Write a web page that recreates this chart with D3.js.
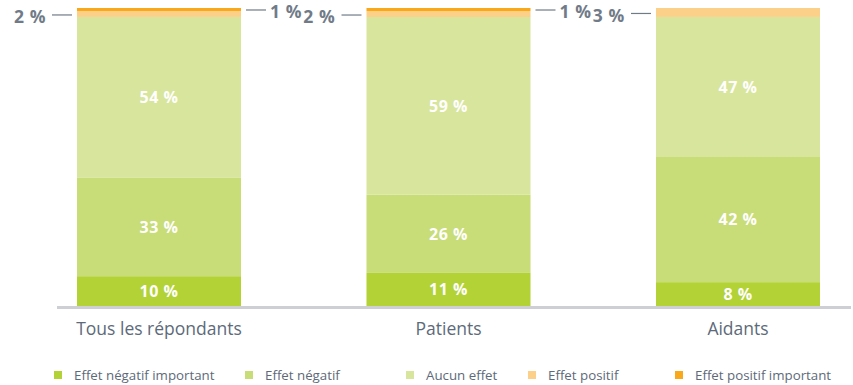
<!DOCTYPE html>
<html>
<head>
<meta charset="utf-8">
<script src="https://cdn.jsdelivr.net/npm/d3@7"></script>
<style>
  html, body { margin: 0; padding: 0; background: #fff; }
  svg { display: block; font-family: "Open Sans", "Lato", sans-serif; }
</style>
</head>
<body>
<svg id="chart" width="853" height="385"></svg>
<script>
// Groups of respondents
const categories = ["Tous les répondants", "Patients", "Aidants"];

// Answer categories, bottom of the stack to top
const seriesNames = ["Effet négatif important", "Effet négatif", "Aucun effet", "Effet positif", "Effet positif important"];
const seriesColors = ["#b2d235", "#c8dc77", "#d8e59c", "#fdd089", "#f9a81a"];

// Percentages per group, one array per answer category
const negImportant = [10, 11, 8];
const negatif      = [33, 26, 42];
const aucun        = [54, 59, 47];
const positif      = [2, 2, 3];
const posImportant = [1, 1, 0];

const seriesValues = [negImportant, negatif, aucun, positif, posImportant];

const rows = categories.map((c, i) => {
  const r = { cat: c };
  seriesNames.forEach((s, k) => r[s] = seriesValues[k][i]);
  return r;
});

const svg = d3.select("#chart");

const x = d3.scaleBand()
  .domain(categories)
  .range([77, 820])
  .paddingInner(0.4335)
  .paddingOuter(0);

const y = d3.scaleLinear().domain([0, 1]).range([306, 8]);

const stack = d3.stack().keys(seriesNames).offset(d3.stackOffsetExpand);
const layers = stack(rows);

const color = d3.scaleOrdinal().domain(seriesNames).range(seriesColors);

// Stacked bars
svg.append("g").selectAll("g")
  .data(layers)
  .join("g")
  .attr("fill", d => color(d.key))
  .selectAll("rect")
  .data(d => d)
  .join("rect")
  .attr("x", d => x(d.data.cat))
  .attr("width", x.bandwidth())
  .attr("y", d => y(d[1]))
  .attr("height", d => Math.max(0, y(d[0]) - y(d[1])));

// Value labels inside the three main segments
const inside = layers.slice(0, 3);
svg.append("g").selectAll("g")
  .data(inside)
  .join("g")
  .selectAll("text")
  .data(d => d.map(v => ({ v, key: d.key })))
  .join("text")
  .attr("x", d => x(d.v.data.cat) + x.bandwidth() / 2)
  .attr("y", d => (y(d.v[0]) + y(d.v[1])) / 2)
  .attr("dy", "0.36em")
  .attr("text-anchor", "middle")
  .attr("fill", "#fff")
  .attr("font-weight", 700)
  .attr("font-size", 16)
  .attr("letter-spacing", 0.5)
  .text(d => d.v.data[d.key] + " %");

// Call-out labels for the thin top segments
const calloutColor = "#717b88";
const callouts = [];
categories.forEach((c, i) => {
  const pos = layers[3][i];
  if (rows[i][seriesNames[3]] > 0) {
    callouts.push({ side: "left", cat: c, yv: (y(pos[0]) + y(pos[1])) / 2 + 1, label: rows[i][seriesNames[3]] + " %" });
  }
  const top = layers[4][i];
  if (rows[i][seriesNames[4]] > 0) {
    callouts.push({ side: "right", cat: c, yv: (y(top[0]) + y(top[1])) / 2 + 0.5, label: rows[i][seriesNames[4]] + " %" });
  }
});

const cg = svg.append("g");
callouts.forEach(d => {
  const x0 = x(d.cat), x1 = x0 + x.bandwidth();
  if (d.side === "left") {
    cg.append("line")
      .attr("x1", x0 - 25).attr("x2", x0 - 5)
      .attr("y1", d.yv).attr("y2", d.yv)
      .attr("stroke", calloutColor).attr("stroke-width", 1.2);
    cg.append("text")
      .attr("x", x0 - 31).attr("y", d.yv + 2)
      .attr("dy", "0.36em")
      .attr("text-anchor", "end")
      .attr("fill", calloutColor)
      .attr("font-weight", 700)
      .attr("font-size", 17.5)
      .attr("letter-spacing", 0.6)
      .text(d.label);
  } else {
    cg.append("line")
      .attr("x1", x1 + 5).attr("x2", x1 + 25)
      .attr("y1", d.yv).attr("y2", d.yv)
      .attr("stroke", calloutColor).attr("stroke-width", 1.2);
    cg.append("text")
      .attr("x", x1 + 29).attr("y", d.yv + 1.5)
      .attr("dy", "0.36em")
      .attr("text-anchor", "start")
      .attr("fill", calloutColor)
      .attr("font-weight", 700)
      .attr("font-size", 17.5)
      .attr("letter-spacing", 0.6)
      .text(d.label);
  }
});

// Baseline
svg.append("rect")
  .attr("x", 57).attr("y", 306)
  .attr("width", 794).attr("height", 3)
  .attr("fill", "#cdcfd4");

// Category axis labels
const xAxis = d3.axisBottom(x).tickSize(0).tickPadding(0);
const ax = svg.append("g").attr("transform", "translate(0,323)").call(xAxis);
ax.select(".domain").remove();
ax.selectAll("text")
  .attr("fill", "#5d6a7a")
  .attr("font-size", 17.5)
  .attr("font-family", "'Open Sans', Lato, sans-serif")
  .attr("dy", "0.71em");

// Legend
const legendX = [54, 245, 406, 528, 675];
const lg = svg.append("g").selectAll("g")
  .data(seriesNames)
  .join("g")
  .attr("transform", (d, i) => `translate(${legendX[i]},371)`);
lg.append("rect")
  .attr("width", 8).attr("height", 8)
  .attr("fill", d => color(d));
lg.append("text")
  .attr("x", 20).attr("y", 4)
  .attr("dy", "0.36em")
  .attr("fill", "#5d6a7a")
  .attr("font-size", 13.3)
  .text(d => d);
</script>
</body>
</html>
